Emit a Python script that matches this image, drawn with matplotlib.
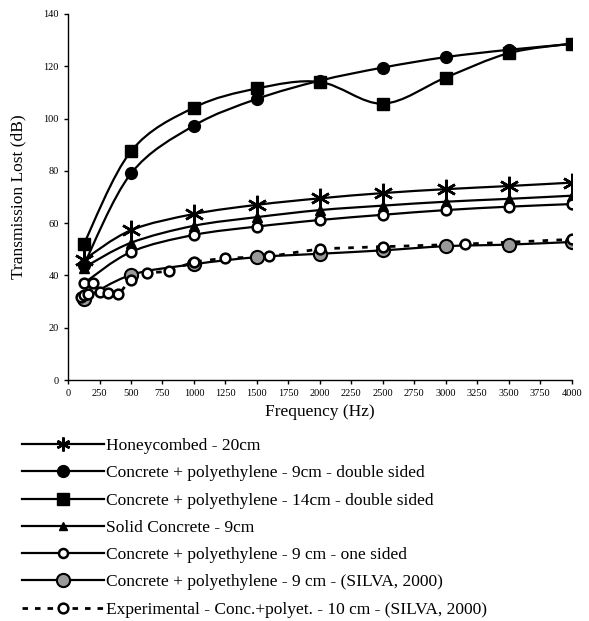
import numpy as np
import matplotlib
matplotlib.use("Agg")
import matplotlib.pyplot as plt
from matplotlib.path import Path
from matplotlib.patches import PathPatch
from matplotlib.lines import Line2D

plt.rcParams['font.family'] = ['Liberation Serif', 'DejaVu Serif']

# ---------------- Data ----------------
freq = [125, 500, 1000, 1500, 2000, 2500, 3000, 3500, 4000]

honeycombed = [46, 57.3, 63.5, 67, 69.5, 71.5, 73, 74.2, 75.5]
conc_pe_9_double = [44, 79, 97.3, 107.5, 114.5, 119.5, 123.5, 126.3, 128.5]
conc_pe_14_double = [52, 87.5, 104.2, 111.5, 114, 105.7, 115.7, 125, 128.7]
solid_concrete = [43, 52.5, 59, 62.3, 65, 66.7, 68.2, 69.3, 70.5]
conc_pe_9_one = [37, 49, 55.5, 58.7, 61.2, 63.2, 65, 66.3, 67.3]
silva_9 = [31, 40.2, 44.3, 47, 48.3, 49.6, 51.2, 51.8, 52.8]

exp_freq = [100, 125, 160, 200, 250, 315, 400, 500, 630, 800, 1000, 1250, 1600, 2000, 2500, 3150, 4000]
experimental = [31.8, 32.5, 33, 37.2, 33.6, 33.2, 33, 38.3, 40.8, 41.8, 45, 46.5, 47.4, 50, 51, 52, 53.8]

labels = [
    "Honeycombed - 20cm",
    "Concrete + polyethylene - 9cm - double sided",
    "Concrete + polyethylene - 14cm - double sided",
    "Solid Concrete - 9cm",
    "Concrete + polyethylene - 9 cm - one sided",
    "Concrete + polyethylene - 9 cm - (SILVA, 2000)",
    "Experimental - Conc.+polyet. - 10 cm - (SILVA, 2000)",
]


# ---------------- Smoothed line (Excel-like bezier) ----------------
def smooth_path(x, y):
    pts = np.column_stack([x, y]).astype(float)
    n = len(pts)
    verts = [pts[0]]
    codes = [Path.MOVETO]
    for i in range(n - 1):
        p0 = pts[i - 1] if i > 0 else pts[i]
        p1 = pts[i]
        p2 = pts[i + 1]
        p3 = pts[i + 2] if i + 2 < n else pts[i + 1]
        c1 = p1 + (p2 - p0) / 6.0
        c2 = p2 - (p3 - p1) / 6.0
        verts += [c1, c2, p2]
        codes += [Path.CURVE4] * 3
    return Path(verts, codes)


fig = plt.figure(figsize=(5.89, 6.21), dpi=100)
ax = fig.add_axes([0.1155, 0.388, 0.855, 0.5895])

LW = 1.6
styles = [
    (honeycombed, dict(marker=(6, 2, 0), ms=14, mew=1.8, mfc='black', mec='black')),
    (conc_pe_9_double, dict(marker='o', ms=8.5, mfc='black', mec='black')),
    (conc_pe_14_double, dict(marker='s', ms=9, mfc='black', mec='black')),
    (solid_concrete, dict(marker='^', ms=6.5, mfc='black', mec='black')),
    (conc_pe_9_one, dict(marker='o', ms=7, mew=1.8, mfc='white', mec='black')),
    (silva_9, dict(marker='o', ms=9.5, mew=1.5, mfc='#999999', mec='black')),
]
legend_ms = [10, 8.5, 9, 6, 6.5, 9.5]

handles = []
for (vals, st), lms in zip(styles, legend_ms):
    ax.add_patch(PathPatch(smooth_path(freq, vals), fill=False, lw=LW,
                           ec='black', transform=ax.transData, zorder=2))
    ax.plot(freq, vals, ls='none', zorder=3, **st)
    hst = dict(st)
    hst['ms'] = lms
    handles.append(Line2D([], [], color='black', lw=LW, **hst))

exp_style = dict(marker='o', ms=7, mew=1.8, mfc='white', mec='black')
ax.add_patch(PathPatch(smooth_path(exp_freq, experimental), fill=False, lw=2,
                       ec='black', ls=(0, (2, 3)), transform=ax.transData, zorder=2))
ax.plot(exp_freq, experimental, ls='none', zorder=3, **exp_style)
handles.append(Line2D([], [], color='black', lw=2, ls=(0, (2, 2.5)), **exp_style))

ax.set_xlim(0, 4000)
ax.set_ylim(0, 140)
ax.set_xticks(np.arange(0, 4001, 250))
ax.set_yticks(np.arange(0, 141, 20))
ax.tick_params(labelsize=7.5, length=3, width=1, direction='out')
for s in ['top', 'right']:
    ax.spines[s].set_visible(False)
for s in ['left', 'bottom']:
    ax.spines[s].set_linewidth(1)

ax.set_xlabel("Frequency (Hz)", fontsize=12.5, labelpad=4)
ax.set_ylabel("Transmission Lost (dB)", fontsize=12.5, labelpad=12)

fig.legend(handles, labels, loc='upper left', bbox_to_anchor=(22 / 589, 1 - 438 / 621),
           frameon=False, fontsize=12.5, handlelength=4.7, handletextpad=0.15,
           labelspacing=0.64, borderpad=0, borderaxespad=0)

fig.savefig("out.png", dpi=100)
